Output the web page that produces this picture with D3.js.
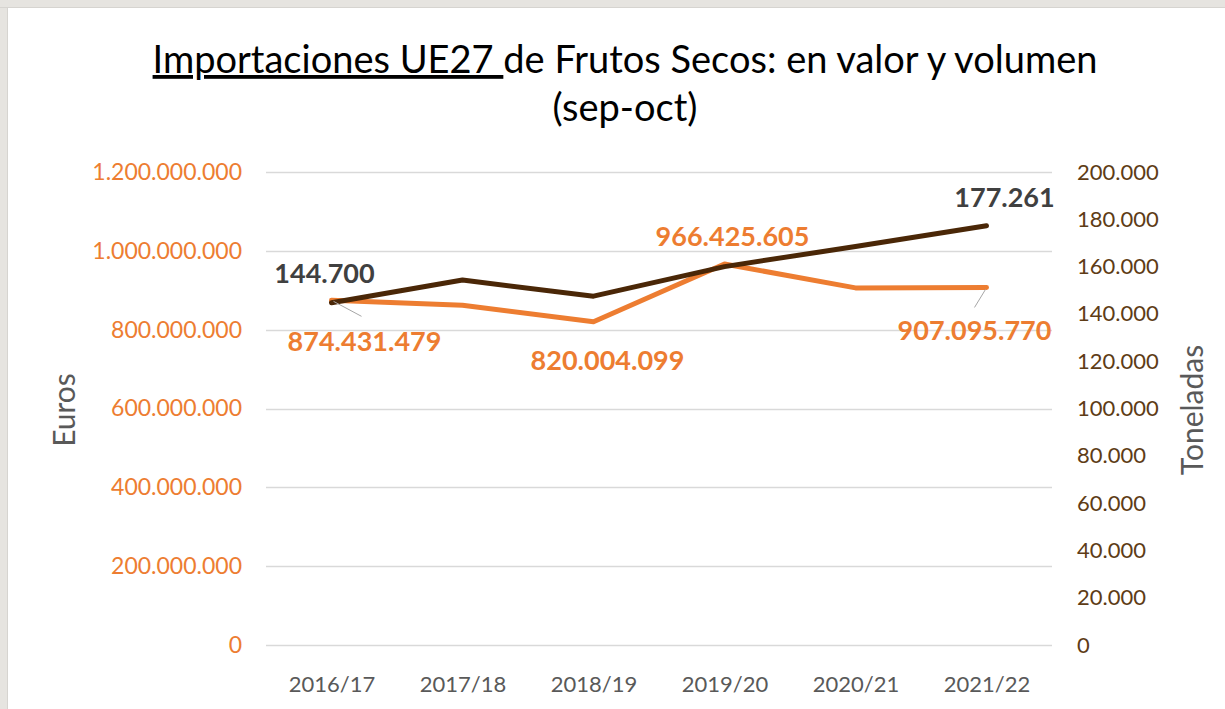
<!DOCTYPE html>
<html>
<head>
<meta charset="utf-8">
<script src="https://cdn.jsdelivr.net/npm/d3@7"></script>
<style>
  body { margin: 0; background: #e6e4e0; }
  svg { display: block; font-family: Lato, "Open Sans", sans-serif; }
</style>
</head>
<body>
<svg id="chart" width="1225" height="709"></svg>
<script>
// campañas
var categories = ["2016/17", "2017/18", "2018/19", "2019/20", "2020/21", "2021/22"];
// valor (euros) y volumen (toneladas)
var euros = [874431479, 862000000, 820004099, 966425605, 906000000, 907095770];
var toneladas = [144700, 154300, 147500, 160000, 168500, 177261];
var eurosTicks = [0, 200000000, 400000000, 600000000, 800000000, 1000000000, 1200000000];
var tonTicks = [0, 20000, 40000, 60000, 80000, 100000, 120000, 140000, 160000, 180000, 200000];

var es = d3.formatLocale({ decimal: ",", thousands: ".", grouping: [3], currency: ["", "€"] });
var fmt = es.format(",.0f");

var svg = d3.select("#chart");
var W = 1225, H = 709;

var ORANGE = "#ed7d31", BROWN = "#4a2707", TICKBROWN = "#5e3c16", GREY = "#595959";

// marco blanco
svg.append("rect").attr("x", 8).attr("y", 8).attr("width", W - 8).attr("height", H - 8).attr("fill", "#fff");
svg.append("line").attr("x1", 0).attr("x2", W).attr("y1", 7.5).attr("y2", 7.5).attr("stroke", "#d6d4d0");
svg.append("line").attr("x1", 7.5).attr("x2", 7.5).attr("y1", 8).attr("y2", H).attr("stroke", "#d6d4d0");

var x = d3.scalePoint().domain(categories).range([266, 1052]).padding(0.5);
var yL = d3.scaleLinear().domain([0, 1200000000]).range([645, 172]);
var yR = d3.scaleLinear().domain([0, 200000]).range([645, 172]);

// título
var title = svg.append("text").attr("x", 625).attr("y", 73).attr("text-anchor", "middle")
    .attr("font-size", 38).attr("fill", "#000");
title.append("tspan").attr("text-decoration", "underline").text("Importaciones UE27 ");
title.append("tspan").text("de Frutos Secos: en valor y volumen");
svg.append("text").attr("x", 625).attr("y", 121).attr("text-anchor", "middle")
    .attr("font-size", 38).attr("fill", "#000").text("(sep-oct)");

// rejilla
svg.append("g").selectAll("line").data(eurosTicks).join("line")
    .attr("x1", 266).attr("x2", 1052)
    .attr("y1", function (d) { return Math.round(yL(d)) + 0.5; })
    .attr("y2", function (d) { return Math.round(yL(d)) + 0.5; })
    .attr("stroke", "#d9d9d9").attr("stroke-width", 1.5);

// ejes
var axL = svg.append("g").attr("transform", "translate(266,0)")
    .call(d3.axisLeft(yL).tickValues(eurosTicks).tickFormat(fmt).tickSize(0).tickPadding(24));
axL.select(".domain").remove();
axL.selectAll("text").attr("fill", ORANGE).attr("font-size", 23).attr("font-family", "Lato");

var axR = svg.append("g").attr("transform", "translate(1052,0)")
    .call(d3.axisRight(yR).tickValues(tonTicks).tickFormat(fmt).tickSize(0).tickPadding(25));
axR.select(".domain").remove();
axR.selectAll("text").attr("fill", TICKBROWN).attr("font-size", 22).attr("font-family", "Lato");

var axB = svg.append("g").attr("transform", "translate(0,645)")
    .call(d3.axisBottom(x).tickSize(0).tickPadding(31));
axB.select(".domain").remove();
axB.selectAll("text").attr("fill", GREY).attr("font-size", 22).attr("font-family", "Lato");

svg.append("text").attr("transform", "translate(75,410) rotate(-90)").attr("text-anchor", "middle")
    .attr("font-size", 30).attr("fill", GREY).text("Euros");
svg.append("text").attr("transform", "translate(1203,410) rotate(-90)").attr("text-anchor", "middle")
    .attr("font-size", 30).attr("fill", GREY).text("Toneladas");

// líneas
var lineE = d3.line().x(function (d, i) { return x(categories[i]); }).y(function (d) { return yL(d); });
var lineT = d3.line().x(function (d, i) { return x(categories[i]); }).y(function (d) { return yR(d); });

svg.append("path").datum(euros).attr("d", lineE).attr("fill", "none")
    .attr("stroke", ORANGE).attr("stroke-width", 5).attr("stroke-linejoin", "round").attr("stroke-linecap", "round");
svg.append("path").datum(toneladas).attr("d", lineT).attr("fill", "none")
    .attr("stroke", BROWN).attr("stroke-width", 5).attr("stroke-linejoin", "round").attr("stroke-linecap", "round");

// etiquetas (índice, dx, dy respecto al punto)
var labelsE = [[0, 33, 51], [2, 14, 48], [3, 8, -18], [5, -12, 53]];
var labelsT = [[0, -7, -20], [5, 18, -19]];

// guías
svg.append("line").attr("x1", x(categories[0]) + 2).attr("y1", yL(euros[0]) + 1)
    .attr("x2", x(categories[0]) + 30).attr("y2", yL(euros[0]) + 16).attr("stroke", "#a6a6a6");
svg.append("line").attr("x1", x(categories[5]) - 1).attr("y1", yL(euros[5]) + 2)
    .attr("x2", x(categories[5]) - 12).attr("y2", yL(euros[5]) + 20).attr("stroke", "#a6a6a6");

svg.append("g").selectAll("text").data(labelsE).join("text")
    .attr("x", function (d) { return x(categories[d[0]]) + d[1]; })
    .attr("y", function (d) { return yL(euros[d[0]]) + d[2]; })
    .attr("text-anchor", "middle").attr("font-size", 27).attr("font-weight", "bold")
    .attr("fill", ORANGE).text(function (d) { return fmt(euros[d[0]]); });

svg.append("g").selectAll("text").data(labelsT).join("text")
    .attr("x", function (d) { return x(categories[d[0]]) + d[1]; })
    .attr("y", function (d) { return yR(toneladas[d[0]]) + d[2]; })
    .attr("text-anchor", "middle").attr("font-size", 27).attr("font-weight", "bold")
    .attr("fill", "#404040").text(function (d) { return fmt(toneladas[d[0]]); });
</script>
</body>
</html>
